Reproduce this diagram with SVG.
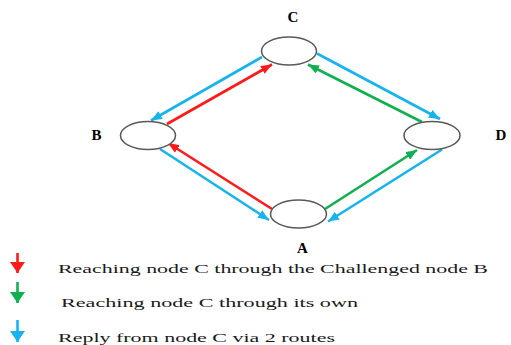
<svg xmlns="http://www.w3.org/2000/svg" width="511" height="345" viewBox="0 0 511 345">
<style>
.node{fill:#fff;stroke:#595959;stroke-width:1.5}
.lbl{font-family:"Liberation Serif",serif;font-weight:bold;font-size:15px;fill:#000}
.leg{font-family:"Liberation Serif",serif;font-size:13px;fill:#1a1a1a}
.e{fill:none;stroke-width:2.6}
.r{stroke:#ff1a1a}.g{stroke:#10b050}.b{stroke:#16b4ee}
</style>
<defs>
<marker id="hr" markerUnits="userSpaceOnUse" markerWidth="11" markerHeight="9" refX="11" refY="4.5" orient="auto"><path d="M0,0 L11,4.5 L0,9 z" fill="#ff1a1a"/></marker>
<marker id="hg" markerUnits="userSpaceOnUse" markerWidth="11" markerHeight="9" refX="11" refY="4.5" orient="auto"><path d="M0,0 L11,4.5 L0,9 z" fill="#10b050"/></marker>
<marker id="hb" markerUnits="userSpaceOnUse" markerWidth="11" markerHeight="9" refX="11" refY="4.5" orient="auto"><path d="M0,0 L11,4.5 L0,9 z" fill="#16b4ee"/></marker>
<marker id="lr" markerUnits="userSpaceOnUse" markerWidth="11" markerHeight="15" refX="11" refY="7.5" orient="auto"><path d="M0,0 L11,7.5 L0,15 z" fill="#ff1a1a"/></marker>
<marker id="lg" markerUnits="userSpaceOnUse" markerWidth="11" markerHeight="15" refX="11" refY="7.5" orient="auto"><path d="M0,0 L11,7.5 L0,15 z" fill="#10b050"/></marker>
<marker id="lb" markerUnits="userSpaceOnUse" markerWidth="11" markerHeight="15" refX="11" refY="7.5" orient="auto"><path d="M0,0 L11,7.5 L0,15 z" fill="#16b4ee"/></marker>
</defs>
<g id="connectors">
<line class="e b" x1="262" y1="57" x2="151" y2="120.5" marker-end="url(#hb)"/>
<line class="e r" x1="167" y1="124" x2="272" y2="64.5" marker-end="url(#hr)"/>
<line class="e r" x1="272" y1="209" x2="168" y2="143" marker-end="url(#hr)"/>
<line class="e b" x1="160" y1="149" x2="269" y2="220" marker-end="url(#hb)"/>
<line class="e b" x1="317" y1="53.5" x2="440" y2="119" marker-end="url(#hb)"/>
<line class="e g" x1="422" y1="122" x2="308" y2="64.5" marker-end="url(#hg)"/>
<line class="e g" x1="325" y1="209" x2="417" y2="150" marker-end="url(#hg)"/>
<line class="e b" x1="442" y1="149.5" x2="328" y2="221.5" marker-end="url(#hb)"/>
</g>
<g id="node-C"><ellipse class="node" cx="289" cy="51" rx="27.5" ry="14"/><text class="lbl" x="293" y="22" text-anchor="middle">C</text></g>
<g id="node-B"><ellipse class="node" cx="148" cy="135.5" rx="27.5" ry="14"/><text class="lbl" x="96.5" y="140" text-anchor="middle">B</text></g>
<g id="node-D"><ellipse class="node" cx="432" cy="135.5" rx="28" ry="14"/><text class="lbl" x="501" y="140" text-anchor="middle">D</text></g>
<g id="node-A"><ellipse class="node" cx="298.5" cy="214" rx="28" ry="14"/><text class="lbl" x="302.5" y="252.5" text-anchor="middle">A</text></g>
<g id="legend">
<line class="e r" x1="17.5" y1="253" x2="17.5" y2="273" stroke-width="3" marker-end="url(#lr)"/>
<line class="e g" x1="17.5" y1="282" x2="17.5" y2="303" stroke-width="3" marker-end="url(#lg)"/>
<line class="e b" x1="17.5" y1="320" x2="17.5" y2="342" stroke-width="3" marker-end="url(#lb)"/>
<text class="leg" x="58" y="273" textLength="430" lengthAdjust="spacingAndGlyphs">Reaching node C through the Challenged node B</text>
<text class="leg" x="61" y="306.5" textLength="297" lengthAdjust="spacingAndGlyphs">Reaching node C through its own</text>
<text class="leg" x="58" y="341.5" textLength="277" lengthAdjust="spacingAndGlyphs">Reply from node C via 2 routes</text>
</g>
</svg>
